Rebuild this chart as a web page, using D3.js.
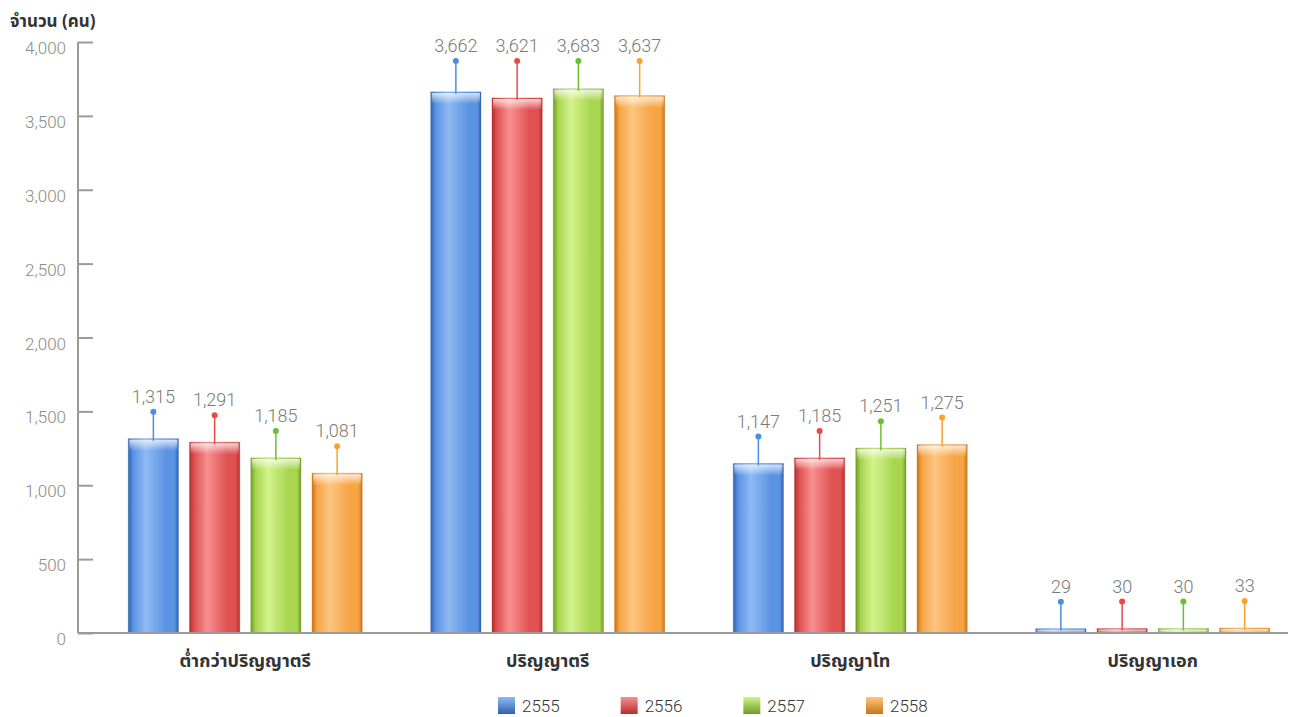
<!DOCTYPE html>
<html>
<head>
<meta charset="utf-8">
<script src="https://cdn.jsdelivr.net/npm/d3@7"></script>
<style>
  html, body { margin: 0; padding: 0; background: #fff; }
  svg { display: block; }
  .num { font-family: Roboto, "Liberation Sans", sans-serif; font-weight: 300; }
  .thai { font-family: "Noto Sans Thai", "Noto Sans Thai UI", "Noto Sans", Roboto, sans-serif; }
</style>
</head>
<body>
<svg id="chart" width="1291" height="717"></svg>
<script>
const categories = ["ต่ำกว่าปริญญาตรี", "ปริญญาตรี", "ปริญญาโท", "ปริญญาเอก"];
const seriesNames = ["2555", "2556", "2557", "2558"];
const values2555 = [1315, 3662, 1147, 29];
const values2556 = [1291, 3621, 1185, 30];
const values2557 = [1185, 3683, 1251, 30];
const values2558 = [1081, 3637, 1275, 33];
const yTicks = [0, 500, 1000, 1500, 2000, 2500, 3000, 3500, 4000];
const yTitle = "จำนวน (คน)";

const seriesValues = [values2555, values2556, values2557, values2558];
const colors = [
  { dark: "#2f62b0", mid: "#5b93e3", light: "#8fbaf3", stem: "#4a8ee0" },
  { dark: "#b52d2d", mid: "#e05252", light: "#f79090", stem: "#e84848" },
  { dark: "#6f9d25", mid: "#a9d650", light: "#d3f28c", stem: "#6cbf2e" },
  { dark: "#cc7418", mid: "#f7a445", light: "#fcc680", stem: "#ff9f30" }
];

const svg = d3.select("#chart");
const defs = svg.append("defs");

colors.forEach((c, i) => {
  const g = defs.append("linearGradient").attr("id", "bar" + i).attr("x1", "0").attr("x2", "1").attr("y1", "0").attr("y2", "0");
  g.append("stop").attr("offset", "0%").attr("stop-color", c.dark);
  g.append("stop").attr("offset", "10%").attr("stop-color", c.mid);
  g.append("stop").attr("offset", "35%").attr("stop-color", c.light);
  g.append("stop").attr("offset", "75%").attr("stop-color", c.mid);
  g.append("stop").attr("offset", "92%").attr("stop-color", c.mid);
  g.append("stop").attr("offset", "100%").attr("stop-color", c.dark);
  const t = defs.append("linearGradient").attr("id", "top" + i).attr("x1", "0").attr("x2", "0").attr("y1", "0").attr("y2", "1");
  t.append("stop").attr("offset", "0%").attr("stop-color", "#ffffff").attr("stop-opacity", 0.75);
  t.append("stop").attr("offset", "100%").attr("stop-color", "#ffffff").attr("stop-opacity", 0);
  const lg = defs.append("linearGradient").attr("id", "leg" + i).attr("x1", "0").attr("x2", "0").attr("y1", "0").attr("y2", "1");
  lg.append("stop").attr("offset", "0%").attr("stop-color", c.light);
  lg.append("stop").attr("offset", "100%").attr("stop-color", c.dark);
});

const y = d3.scaleLinear().domain([0, 4000]).range([633, 42]);
const x0 = d3.scaleBand().domain(categories).range([94, 1304]).padding(0);
const x1 = d3.scaleBand().domain(seriesNames).range([-117, 117]).paddingInner(0.18).paddingOuter(0);

// y axis
const yAxis = d3.axisRight(y).tickValues(yTicks).tickSize(15).tickFormat("");
const ya = svg.append("g").attr("transform", "translate(78,0)").call(yAxis);
ya.select(".domain").attr("stroke", "#9a9a9a").attr("stroke-width", 2).attr("d", "M0,42V633");
ya.selectAll(".tick line").attr("stroke", "#9a9a9a").attr("stroke-width", 2);

svg.append("g").selectAll("text").data(yTicks).join("text")
  .attr("class", "num")
  .attr("x", 66).attr("y", d => y(d) + 12)
  .attr("text-anchor", "end")
  .attr("font-size", 17).attr("fill", "#8a8a8a")
  .text(d => d3.format(",")(d));

// title
svg.append("text").attr("class", "thai")
  .attr("x", 10).attr("y", 27)
  .attr("font-size", 17).attr("font-weight", "bold").attr("fill", "#333")
  .text(yTitle);

// bars
const groups = svg.append("g").selectAll("g").data(categories).join("g")
  .attr("transform", d => `translate(${x0(d) + x0.bandwidth() / 2},0)`);

groups.each(function(cat, ci) {
  const g = d3.select(this);
  seriesNames.forEach((s, si) => {
    const v = seriesValues[si][ci];
    const bx = x1(s), bw = x1.bandwidth();
    const top = y(v), h = y(0) - y(v);
    g.append("rect").attr("x", bx).attr("y", top).attr("width", bw).attr("height", h)
      .attr("fill", `url(#bar${si})`).attr("stroke", colors[si].dark).attr("stroke-opacity", 0.35).attr("stroke-width", 1);
    const th = Math.min(12, h);
    g.append("rect").attr("x", bx + 1).attr("y", top + 1).attr("width", bw - 2).attr("height", Math.max(0, th - 1))
      .attr("fill", `url(#top${si})`);
    const cx = bx + bw / 2;
    let dotY = top - 27;
    if (dotY < y(4000) + 40) dotY = y(4000) + 19;
    g.append("line").attr("x1", cx).attr("x2", cx).attr("y1", dotY).attr("y2", top + 2)
      .attr("stroke", colors[si].stem).attr("stroke-width", 1.5);
    g.append("circle").attr("cx", cx).attr("cy", dotY).attr("r", 3).attr("fill", colors[si].stem);
    g.append("text").attr("class", "num")
      .attr("x", cx).attr("y", dotY - 9)
      .attr("text-anchor", "middle").attr("font-size", 18).attr("fill", "#7a7a7a")
      .text(d3.format(",")(v));
  });
});

// x baseline
svg.append("line").attr("x1", 78).attr("x2", 1288).attr("y1", 633).attr("y2", 633)
  .attr("stroke", "#9a9a9a").attr("stroke-width", 2);

// category labels
svg.append("g").selectAll("text").data(categories).join("text")
  .attr("class", "thai")
  .attr("x", d => x0(d) + x0.bandwidth() / 2).attr("y", 667)
  .attr("text-anchor", "middle").attr("font-size", 18).attr("font-weight", "bold").attr("fill", "#333")
  .text(d => d);

// legend
const legendX = d3.scalePoint().domain(seriesNames).range([498, 866]);
const lg = svg.append("g").selectAll("g").data(seriesNames).join("g")
  .attr("transform", d => `translate(${legendX(d)},697)`);
lg.append("rect").attr("width", 17).attr("height", 17).attr("fill", (d, i) => `url(#leg${i})`);
lg.append("text").attr("class", "num").attr("x", 24).attr("y", 15)
  .attr("font-size", 17).attr("font-weight", 400).attr("fill", "#333").text(d => d);
</script>
</body>
</html>
